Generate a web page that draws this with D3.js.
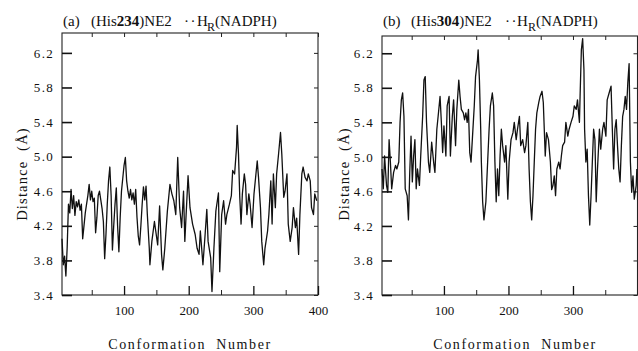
<!DOCTYPE html>
<html>
<head>
<meta charset="utf-8">
<script src="https://d3js.org/d3.v7.min.js"></script>
<style>
  body { margin: 0; background: #fff; }
  svg { display: block; }
  text { font-family: "Liberation Serif", "Times New Roman", serif; fill: #111; }
</style>
</head>
<body>
<div id="chart"></div>
<script>
// (a) (His234)NE2 .. H_R(NADPH) distance vs conformation
var confA = [4,6,8,10,12,14,16,18,20,22,24,26,28,30,32,34,36,38,40,42,44,46,48,50,52,54,56,58,60,62,64,66,68,70,72,74,76,78,80,82,84,86,88,90,92,94,96,98,100,102,104,106,108,110,112,114,116,118,120,122,124,126,128,130,132,
  134,136,139,140,143,147,149,152,155,158,160,163,167,171,174,177,180,183,186,189,192,194,196,199,202,206,210,213,216,218,222,225,228,230,234,236,239,242,246,248,251,254,257,259,263,266,268,
  271,274,275,277,279,281,283,286,288,290,293,295,298,301,304,306,308,311,313,316,318,322,324,327,329,331,334,336,339,342,344,347,349,352,354,357,360,362,365,367,370,372,375,377,380,383,385,388,390,393,395,398];
var distA = [4.05,3.75,3.85,3.62,3.95,4.45,4.35,4.62,4.40,4.55,4.32,4.48,4.42,4.50,4.38,4.45,4.05,4.20,4.35,4.45,4.55,4.68,4.50,4.60,4.48,4.52,4.12,4.30,4.55,4.60,4.50,4.40,4.25,3.82,4.10,4.45,4.72,4.88,4.55,3.92,4.20,4.45,4.64,4.20,3.90,4.30,4.60,4.75,4.90,4.99,4.72,4.60,4.52,4.62,4.50,4.58,4.45,4.62,4.30,4.08,3.98,4.20,4.45,4.65,4.50,
  4.66,4.33,3.94,3.75,4.02,4.25,4.14,3.98,4.43,3.87,3.69,3.94,4.37,4.68,4.57,4.49,4.33,4.99,4.41,4.18,4.60,4.02,4.33,4.78,4.41,4.22,4.10,3.94,3.87,4.14,3.75,4.06,4.39,4.02,3.83,3.44,3.94,4.37,4.58,3.67,4.33,4.49,4.22,4.33,4.45,4.55,4.84,
  4.80,5.11,5.36,5.03,4.53,4.22,4.57,4.80,4.68,4.33,4.57,4.45,4.18,4.57,4.80,4.95,4.76,4.41,4.02,3.75,3.94,4.14,4.33,4.72,4.22,4.80,4.41,4.80,5.03,5.28,5.03,4.53,4.60,4.80,4.22,4.02,4.18,4.41,4.18,4.29,3.87,4.33,4.80,4.88,4.76,4.72,4.80,4.72,4.41,4.33,4.57,4.49];

// (b) (His304)NE2 .. H_R(NADPH)
var confB = [4,6,8,11,13,15,17,19,22,25,27,30,32,34,36,38,40,43,45,47,49,51,53,55,57,59,62,64,67,69,71,73,76,78,81,84,86,89,91,94,96,98,100,103,105,108,110,113,115,118,120,123,125,127,130,132,
  134,136,138,140,142,144,147,149,152,153,155,157,158,160,162,165,167,170,172,175,177,179,181,183,185,187,189,191,194,196,199,201,204,207,209,212,214,217,219,222,225,227,230,232,234,236,238,240,242,244,247,249,252,254,257,259,262,265,
  267,269,271,273,275,278,280,282,284,287,289,292,294,297,300,302,305,307,310,311,313,315,317,318,320,322,324,326,328,330,332,334,336,338,341,343,346,348,351,353,356,359,361,363,365,367,369,371,373,375,377,379,381,383,385,387,389,391,393,395,398,399];
var distB = [4.86,4.63,5.01,4.67,4.59,5.20,4.94,4.63,4.82,4.90,4.86,4.94,5.40,5.66,5.74,5.47,4.63,4.55,4.27,4.82,5.24,4.71,5.01,5.20,4.63,4.86,4.67,5.01,5.47,5.89,5.93,5.40,4.94,4.82,5.17,4.94,4.82,5.32,5.47,5.70,5.40,5.05,5.36,5.01,5.59,5.70,5.01,5.47,5.66,5.13,5.55,5.89,5.70,5.55,5.51,5.43,
  5.51,5.40,5.55,5.05,4.94,5.20,5.59,5.93,6.12,6.24,5.89,5.32,4.94,4.48,4.27,4.48,4.82,5.32,5.59,5.74,5.59,4.94,4.48,4.86,4.55,5.01,5.32,5.13,4.94,5.13,4.51,4.94,5.20,5.28,5.40,5.20,5.32,5.47,5.13,5.20,5.05,5.13,5.40,4.86,4.48,4.27,4.55,4.94,5.32,5.51,5.63,5.70,5.76,5.63,5.01,5.28,5.20,4.94,
  4.62,4.67,4.78,4.55,4.86,4.94,4.86,5.01,5.13,5.17,5.40,5.24,5.32,5.40,5.47,5.59,5.55,5.66,5.40,5.70,6.24,6.37,6.01,5.32,4.94,5.09,4.55,4.21,4.55,4.94,5.32,5.20,4.48,4.86,5.32,5.09,5.32,5.40,5.24,5.66,5.74,5.82,5.32,4.86,5.32,5.43,5.13,4.86,4.71,5.13,5.47,5.55,5.70,5.55,5.86,6.08,4.94,4.59,4.78,4.51,4.67,4.86];

var yTicks = [3.4, 3.8, 4.2, 4.6, 5.0, 5.4, 5.8, 6.2];
var xLabelsA = [100, 200, 300, 400];
var xLabelsB = [100, 200, 300];
var xMinor = [50, 150, 250, 350];

var svg = d3.select("#chart").append("svg")
    .attr("width", 638)
    .attr("height", 351);

function panel(opt) {
    var x = d3.scaleLinear().domain([4, 400]).range([opt.left, opt.right]);
    var y = d3.scaleLinear().domain([3.4, opt.yMax]).range([295, opt.top]);
    var g = svg.append("g");

    // frame
    g.append("rect")
        .attr("x", opt.left).attr("y", opt.top)
        .attr("width", opt.right - opt.left).attr("height", 295 - opt.top)
        .attr("fill", "none").attr("stroke", "#222").attr("stroke-width", 1.1);

    // left axis, inward ticks
    g.append("g")
        .attr("transform", `translate(${opt.left},0)`)
        .call(d3.axisLeft(y).tickValues(yTicks).tickSize(-10).tickPadding(8).tickFormat(d3.format(".1f")))
        .call(a => a.select(".domain").remove())
        .call(a => a.selectAll("line").attr("stroke", "#111").attr("stroke-width", 1.6))
        .call(a => a.selectAll("text").attr("font-size", 13).attr("letter-spacing", 1.3)
            .attr("font-family", "Liberation Serif, Times New Roman, serif").attr("fill", "#111"));

    // right axis, short inward ticks
    g.append("g")
        .attr("transform", `translate(${opt.right},0)`)
        .call(d3.axisRight(y).tickValues(yTicks).tickSize(-4).tickFormat(""))
        .call(a => a.select(".domain").remove())
        .call(a => a.selectAll("line").attr("stroke", "#222"));

    // top axis, ticks every 50
    g.append("g")
        .attr("transform", `translate(0,${opt.top})`)
        .call(d3.axisTop(x).tickValues(xMinor.concat(xLabelsA)).tickSize(-4).tickFormat(""))
        .call(a => a.select(".domain").remove())
        .call(a => a.selectAll("line").attr("stroke", "#222"));

    // bottom axis: major with labels, minor short
    g.append("g")
        .attr("transform", "translate(0,295)")
        .call(d3.axisBottom(x).tickValues(xMinor).tickSize(-5).tickFormat(""))
        .call(a => a.select(".domain").remove())
        .call(a => a.selectAll("line").attr("stroke", "#222"));
    g.append("g")
        .attr("transform", "translate(0,295)")
        .call(d3.axisBottom(x).tickValues(opt.xLabels).tickSize(-9).tickPadding(11).tickFormat(d3.format("d")))
        .call(a => a.select(".domain").remove())
        .call(a => a.selectAll("line").attr("stroke", "#111").attr("stroke-width", 1.3))
        .call(a => a.selectAll("text").attr("font-size", 13)
            .attr("font-family", "Liberation Serif, Times New Roman, serif").attr("fill", "#111"));

    // data line
    var pts = opt.conf.map((c, i) => [c, opt.dist[i]]);
    g.append("path")
        .datum(pts)
        .attr("fill", "none")
        .attr("stroke", "#111")
        .attr("stroke-width", 1.3)
        .attr("stroke-linejoin", "round")
        .attr("d", d3.line().x(d => x(d[0])).y(d => y(d[1])));

    // axis titles
    g.append("text")
        .attr("transform", `translate(${opt.yLabelX},174) rotate(-90)`)
        .attr("text-anchor", "middle")
        .attr("font-size", 14.5)
        .attr("letter-spacing", 1.2)
        .style("white-space", "pre")
        .text("Distance  (Å)");
    g.append("text")
        .attr("x", opt.xLabelX).attr("y", 349)
        .attr("text-anchor", "middle")
        .attr("font-size", 14)
        .attr("letter-spacing", 1.6)
        .style("white-space", "pre")
        .text("Conformation  Number");

    // panel title
    var t = opt.title;
    g.append("text").attr("x", t.x0).attr("y", 26).attr("font-size", 15).text(t.tag);
    var main = g.append("text").attr("x", t.x1).attr("y", 26).attr("font-size", 15);
    main.append("tspan").text("(His");
    main.append("tspan").attr("font-weight", "bold").text(t.res);
    main.append("tspan").text(")NE2");
    g.append("text").attr("x", t.x2).attr("y", 26).attr("font-size", 15).attr("letter-spacing", 1.5).text("··");
    g.append("text").attr("x", t.x3).attr("y", 26).attr("font-size", 15).text("H");
    g.append("text").attr("x", t.x4).attr("y", 31).attr("font-size", 12).text("R");
    g.append("text").attr("x", t.x5).attr("y", 26).attr("font-size", 15).text("(NADPH)");
}

panel({
    left: 62, right: 318, top: 33, yMax: 6.43,
    conf: confA, dist: distA, xLabels: xLabelsA,
    yLabelX: 27, xLabelX: 190,
    title: { tag: "(a)", res: "234", x0: 63, x1: 91, x2: 184, x3: 197, x4: 207, x5: 215 }
});
panel({
    left: 382, right: 637.5, top: 36, yMax: 6.40,
    conf: confB, dist: distB, xLabels: xLabelsB,
    yLabelX: 349, xLabelX: 515,
    title: { tag: "(b)", res: "304", x0: 383, x1: 411, x2: 505, x3: 517, x4: 528, x5: 536 }
});
</script>
</body>
</html>
